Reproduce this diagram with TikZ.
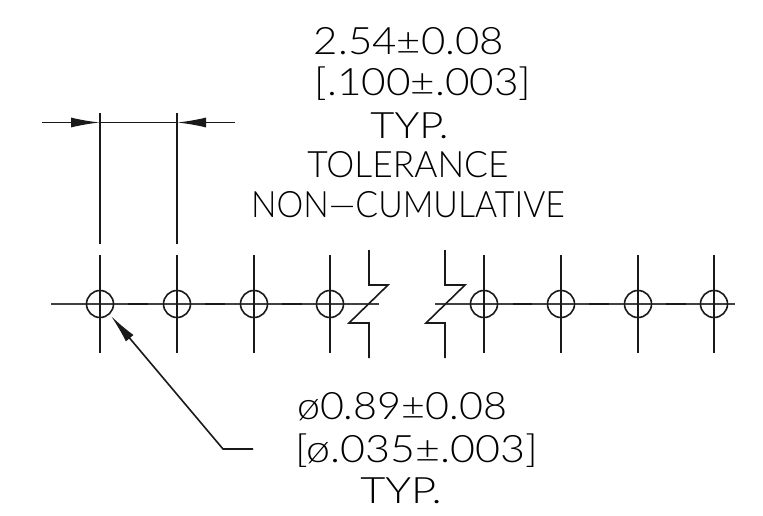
\documentclass[tikz,border=0pt]{standalone}
\usepackage{fontspec}
\setmainfont{Lato}[UprightFont=* Light]
\usetikzlibrary{arrows.meta}
\tikzset{
  ln/.style={line width=1.6pt,black!90},
  center/.style={line width=1.3pt,black!75},
  hole/.style={circle,draw=black!90,line width=1.6pt,minimum size=27pt,inner sep=0pt},
  lbl/.style={anchor=base,inner sep=0pt,font=\fontsize{35}{35}\selectfont},
  tip/.style={-{Latex[length=29pt,width=10pt]}}
}
\begin{document}
\begin{tikzpicture}[x=1pt,y=-1pt]
\useasboundingbox (0,0) rectangle (763,516);
% centre lines
\draw[center] (51,304) -- (379,304);
\draw[center] (435,304) -- (735,304);
\foreach \a/\b in {128/148,205/225,282/302,513/532,589/609,666/686}
  \draw[ln] (\a,304) -- (\b,304);
% holes
\foreach \n/\x in {a/100,b/177,c/254,d/330,e/484,f/561,g/638,h/714}{
  \node[hole] (\n) at (\x,304) {};
  \draw[ln] (\x,255) -- (\x,352.5);
}
% extension and dimension lines
\coordinate (e1) at (100,113); \coordinate (e1b) at (100,244);
\coordinate (e2) at (177,113); \coordinate (e2b) at (177,244);
\coordinate (d1) at (100,122.5); \coordinate (d2) at (177,122.5);
\coordinate (o1) at (42,122.5); \coordinate (o2) at (235,122.5);
\draw[ln] (e1) -- (e1b);
\draw[ln] (e2) -- (e2b);
\draw[ln] (d1) -- (d2);
\draw[ln,tip] (o1) -- (d1);
\draw[ln,tip] (o2) -- (d2);
% break marks
\draw[ln] (369,250) -- (369,285) -- (388,285) -- (349,323) -- (369,323) -- (369,358);
\draw[ln] (445,250) -- (445,285) -- (465,285) -- (426,323) -- (445,323) -- (445,358);
% leader
\coordinate (l0) at (253,449); \coordinate (l1) at (223,449); \coordinate (l2) at (111,316);
\draw[ln,tip] (l0) -- (l1) -- (l2);
% text
\node[lbl] (t1) at (409,55) {\scalebox{1.2}[1.08]{2.54±0.08}};
\node[lbl] (t2) at (423,96) {\scalebox{1.21}[1.08]{[.100±.003]}};
\node[lbl] (t3) at (409.5,139) {\scalebox{1.19}[1.04]{TYP.}};
\node[lbl] (t4) at (408,178) {\scalebox{1.01}[1.04]{TOLERANCE}};
\node[lbl] (t5) at (408,217) {\scalebox{0.965}[1.04]{NON—CUMULATIVE}};
\node[lbl] (t6) at (402,419) {\scalebox{1.18}[1.08]{ø0.89±0.08}};
\node[lbl] (t7) at (417,462) {\scalebox{1.23}[1.08]{[ø.035±.003]}};
\node[lbl] (t8) at (401,503) {\scalebox{1.24}[1.04]{TYP.}};
\end{tikzpicture}
\end{document}
